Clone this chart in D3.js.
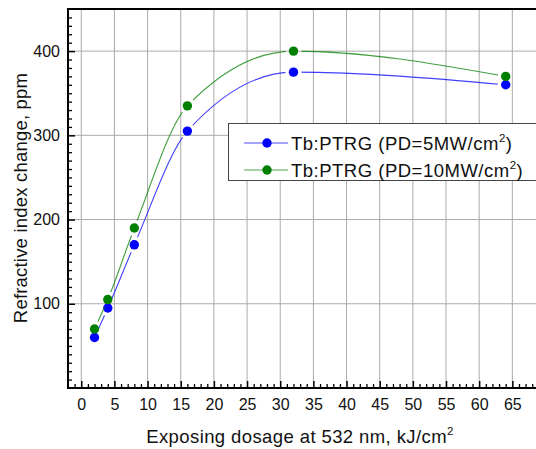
<!DOCTYPE html>
<html>
<head>
<meta charset="utf-8">
<script src="https://cdn.jsdelivr.net/npm/d3@7"></script>
<style>
	body { margin: 0; background: #fff; }
	svg { display: block; font-family: Arial, "Liberation Sans", sans-serif; }
</style>
</head>
<body>
<script>
"use strict";

// exposing dosage, kJ/cm2
var dosage = [2, 4, 8, 16, 32, 64];
// refractive index change, ppm
var pd5  = [60, 95, 170, 305, 375, 360];
var pd10 = [70, 105, 190, 335, 400, 370];

var seriesNames  = ["Tb:PTRG (PD=5MW/cm", "Tb:PTRG (PD=10MW/cm"];
var seriesColors = ["#0000ff", "#008000"];

var xMajorTicks = [0, 5, 10, 15, 20, 25, 30, 35, 40, 45, 50, 55, 60, 65, 70];
var yMajorTicks = [100, 200, 300, 400];

var width = 536, height = 449;

var x = d3.scaleLinear().domain([-2, 70]).range([68, 545.5]);
var y = d3.scaleLinear().domain([0, 450]).range([388, 9]);

var svg = d3.select("body").append("svg")
	.attr("width", width)
	.attr("height", height);

// grid
svg.append("g").selectAll("line")
	.data(xMajorTicks)
	.enter().append("line")
	.attr("x1", function(d) { return x(d); })
	.attr("x2", function(d) { return x(d); })
	.attr("y1", y(450))
	.attr("y2", y(0))
	.style("stroke", "#ababab")
	.style("stroke-width", 1);

svg.append("g").selectAll("line")
	.data(yMajorTicks)
	.enter().append("line")
	.attr("x1", x(-2))
	.attr("x2", width)
	.attr("y1", function(d) { return y(d); })
	.attr("y2", function(d) { return y(d); })
	.style("stroke", "#ababab")
	.style("stroke-width", 1);

// minor ticks (inward)
var xMinor = d3.range(-1, 71).filter(function(d) { return d % 5 !== 0; });
var yMinor = d3.range(10, 450, 10).filter(function(d) { return d % 100 !== 0; });

svg.append("g")
	.attr("transform", "translate(0," + y(0) + ")")
	.call(d3.axisBottom(x).tickValues(xMinor).tickSize(-4).tickSizeOuter(0).tickFormat(""))
	.call(function(g) { g.select(".domain").remove(); })
	.selectAll("line").style("stroke", "#000").style("stroke-width", 1.3);

svg.append("g")
	.attr("transform", "translate(" + x(-2) + ",0)")
	.call(d3.axisLeft(y).tickValues(yMinor).tickSize(-4).tickSizeOuter(0).tickFormat(""))
	.call(function(g) { g.select(".domain").remove(); })
	.selectAll("line").style("stroke", "#000").style("stroke-width", 1.3);

// major ticks + labels
var xAxis = svg.append("g")
	.attr("transform", "translate(0," + y(0) + ")")
	.call(d3.axisBottom(x).tickValues(xMajorTicks.slice(0, 14)).tickSize(-7).tickSizeOuter(0).tickPadding(11));
xAxis.select(".domain").remove();
xAxis.selectAll("line").style("stroke", "#000").style("stroke-width", 1.5);
xAxis.selectAll("text")
	.style("font-size", "16px")
	.style("font-family", "Arial, 'Liberation Sans', sans-serif")
	.style("fill", "#111");

var yAxis = svg.append("g")
	.attr("transform", "translate(" + x(-2) + ",0)")
	.call(d3.axisLeft(y).tickValues(yMajorTicks).tickSize(-7).tickSizeOuter(0).tickPadding(8));
yAxis.select(".domain").remove();
yAxis.selectAll("line").style("stroke", "#000").style("stroke-width", 1.5);
yAxis.selectAll("text")
	.style("font-size", "16px")
	.style("font-family", "Arial, 'Liberation Sans', sans-serif")
	.style("fill", "#111");

// frame lines
svg.append("line")
	.attr("x1", x(-2)).attr("x2", width)
	.attr("y1", y(0)).attr("y2", y(0))
	.style("stroke", "#000").style("stroke-width", 2);
svg.append("line")
	.attr("x1", x(-2)).attr("x2", width)
	.attr("y1", y(450)).attr("y2", y(450))
	.style("stroke", "#000").style("stroke-width", 2);
svg.append("line")
	.attr("x1", x(-2)).attr("x2", x(-2))
	.attr("y1", y(450) - 1).attr("y2", y(0) + 1)
	.style("stroke", "#000").style("stroke-width", 2);

// curves, with a gap round each marker
var allSeries = [pd5, pd10];
var defs = svg.append("defs");

allSeries.forEach(function(values, i) {
	var pts = dosage.map(function(d, j) { return [d, values[j]]; });

	var mask = defs.append("mask").attr("id", "gap" + i);
	mask.append("rect")
		.attr("width", width).attr("height", height)
		.style("fill", "#fff");
	mask.selectAll("circle")
		.data(pts)
		.enter().append("circle")
		.attr("cx", function(d) { return x(d[0]); })
		.attr("cy", function(d) { return y(d[1]); })
		.attr("r", 8)
		.style("fill", "#000");

	var line = d3.line()
		.x(function(d) { return x(d[0]); })
		.y(function(d) { return y(d[1]); })
		.curve(d3.curveMonotoneX);

	svg.append("path")
		.datum(pts)
		.attr("d", line)
		.attr("mask", "url(#gap" + i + ")")
		.style("fill", "none")
		.style("stroke", seriesColors[i])
		.style("stroke-opacity", 0.75)
		.style("stroke-width", 1.1);

	svg.append("g").selectAll("circle")
		.data(pts)
		.enter().append("circle")
		.attr("cx", function(d) { return x(d[0]); })
		.attr("cy", function(d) { return y(d[1]); })
		.attr("r", 4.7)
		.style("fill", seriesColors[i]);
});

// legend
var legend = svg.append("g");
legend.append("rect")
	.attr("x", 228.5).attr("y", 123.5)
	.attr("width", 312).attr("height", 57)
	.style("fill", "#fff")
	.style("stroke", "#444")
	.style("stroke-width", 1);

seriesNames.forEach(function(name, i) {
	var ly = 143 + i * 27;
	legend.append("line")
		.attr("x1", 244).attr("x2", 288)
		.attr("y1", ly).attr("y2", ly)
		.style("stroke", seriesColors[i])
		.style("stroke-opacity", 0.7)
		.style("stroke-width", 1.1);
	legend.append("circle")
		.attr("cx", 267).attr("cy", ly)
		.attr("r", 4.7)
		.style("fill", seriesColors[i]);
	var t = legend.append("text")
		.attr("x", 291).attr("y", ly + 6.5)
		.style("font-size", "18.5px")
		.style("letter-spacing", "0.5px")
		.style("fill", "#111");
	t.append("tspan").text(name);
	t.append("tspan").attr("dy", -8).style("font-size", "11.5px").text("2");
	t.append("tspan").attr("dy", 8).text(")");
});

// axis titles
var xt = svg.append("text")
	.attr("x", 300).attr("y", 443)
	.attr("text-anchor", "middle")
	.style("font-size", "18.5px")
	.style("letter-spacing", "0.4px")
	.style("fill", "#111");
xt.append("tspan").text("Exposing dosage at 532 nm, kJ/cm");
xt.append("tspan").attr("dy", -8).style("font-size", "11.5px").text("2");

svg.append("text")
	.attr("transform", "translate(27," + 198 + ") rotate(-90)")
	.attr("text-anchor", "middle")
	.style("font-size", "18.5px")
	.style("letter-spacing", "0.2px")
	.style("fill", "#111")
	.text("Refractive index change, ppm");
</script>
</body>
</html>
